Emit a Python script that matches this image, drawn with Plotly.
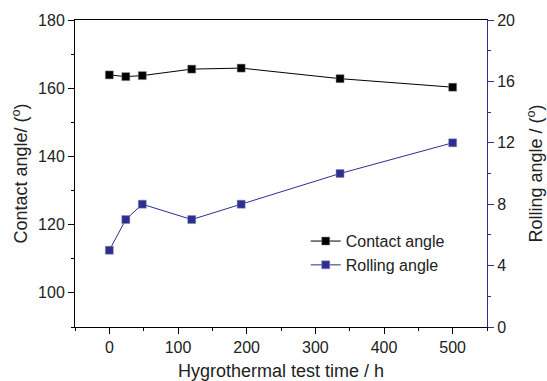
import plotly.graph_objects as go

time_h = [0, 24, 48, 120, 192, 336, 500]
contact_angle = [163.9, 163.4, 163.7, 165.6, 165.9, 162.8, 160.3]
rolling_angle = [5, 7, 8, 7, 8, 10, 12]

black = "#000000"
blue = "#2E2E8F"
font = "Liberation Sans, Arial, sans-serif"

fig = go.Figure()
fig.add_trace(go.Scatter(
    x=time_h, y=contact_angle, name="Contact angle", mode="lines+markers",
    line=dict(color=black, width=1),
    marker=dict(symbol="square", size=8, color=black, line=dict(color="#888888", width=0.5)),
))
fig.add_trace(go.Scatter(
    x=time_h, y=rolling_angle, name="Rolling angle", mode="lines+markers", yaxis="y2",
    line=dict(color=blue, width=1),
    marker=dict(symbol="square", size=8, color=blue, line=dict(color="#8888bb", width=0.5)),
))

fig.update_layout(
    width=547, height=381,
    margin=dict(l=75, r=60, t=20, b=54),
    paper_bgcolor="white", plot_bgcolor="white",
    font=dict(family=font, size=15, color="#222222"),
    showlegend=True,
    legend=dict(x=0.56, y=0.335, xanchor="left", yanchor="top",
                bgcolor="rgba(0,0,0,0)", font=dict(size=16, family=font),
                itemwidth=30, tracegroupgap=0),
    xaxis=dict(
        range=[-50, 550], tickvals=[0, 100, 200, 300, 400, 500],
        showline=True, linecolor=black, linewidth=1, mirror=True,
        ticks="outside", ticklen=6, tickcolor=black,
        minor=dict(dtick=50, tick0=0, ticks="outside", ticklen=3, tickcolor=black),
        showgrid=False, zeroline=False, automargin=False,
        tickfont=dict(size=16),
        title=dict(text="Hygrothermal test time / h", font=dict(size=18), standoff=14),
    ),
    yaxis=dict(
        range=[90, 180], tickvals=[100, 120, 140, 160, 180],
        showline=True, linecolor=black, linewidth=1,
        ticks="outside", ticklen=6, tickcolor=black,
        minor=dict(dtick=10, tick0=0, ticks="outside", ticklen=3, tickcolor=black),
        showgrid=False, zeroline=False, automargin=False,
        tickfont=dict(size=16),
        title=dict(text="Contact angle/ (<sup>o</sup>)", font=dict(size=18), standoff=5),
    ),
    yaxis2=dict(
        range=[0, 20], tickvals=[0, 4, 8, 12, 16, 20],
        overlaying="y", side="right",
        showline=True, linecolor=blue, linewidth=1,
        ticks="outside", ticklen=6, tickcolor=blue,
        minor=dict(dtick=2, tick0=0, ticks="outside", ticklen=3, tickcolor=blue),
        showgrid=False, zeroline=False, automargin=False,
        tickfont=dict(size=16),
        title=dict(text="Rolling angle / (<sup>o</sup>)", font=dict(size=18), standoff=15),
    ),
)

fig.write_html("out.html")
